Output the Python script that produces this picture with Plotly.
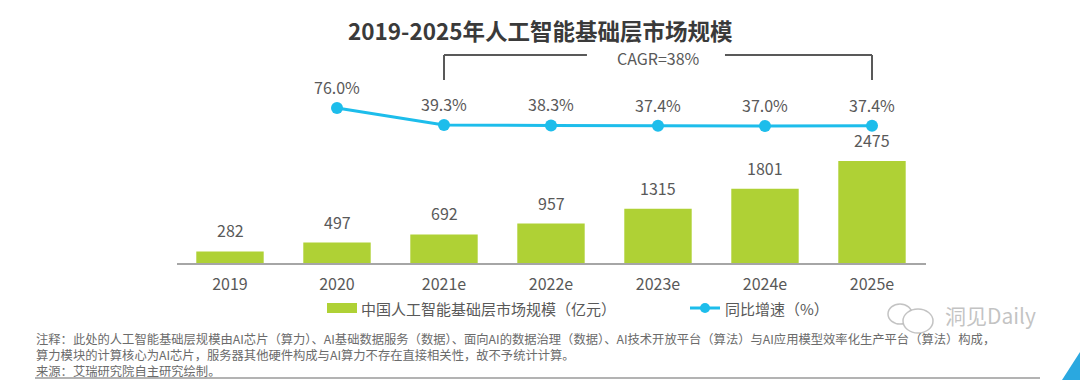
import plotly.graph_objects as go

categories = ["2019", "2020", "2021e", "2022e", "2023e", "2024e", "2025e"]
market_size = [282, 497, 692, 957, 1315, 1801, 2475]
growth_rate = [None, 76.0, 39.3, 38.3, 37.4, 37.0, 37.4]
growth_labels = ["", "76.0%", "39.3%", "38.3%", "37.4%", "37.0%", "37.4%"]

title_text = "2019-2025年人工智能基础层市场规模"
bar_name = "中国人工智能基础层市场规模（亿元）"
line_name = "同比增速（%）"
cagr_text = "CAGR=38%"
note_lines = [
    "注释：此处的人工智能基础层规模由AI芯片（算力）、AI基础数据服务（数据）、面向AI的数据治理（数据）、AI技术开放平台（算法）与AI应用模型效率化生产平台（算法）构成，",
    "算力模块的计算核心为AI芯片，服务器其他硬件构成与AI算力不存在直接相关性，故不予统计计算。",
    "来源：艾瑞研究院自主研究绘制。",
]

W, H = 1080, 380
FONT = "Noto Sans CJK SC"
GRAY = "#595959"
GREEN = "#AFD135"
BLUE = "#1DBDEB"


def py(p):
    return (H - p) / H


def px(p):
    return p / W


def txt(x, y, text, size, color=GRAY, xanchor="center", yanchor="middle", xref="paper", yref="paper", yshift=0,
        align="center"):
    return dict(x=x, y=y, xref=xref, yref=yref, text=text, showarrow=False,
                xanchor=xanchor, yanchor=yanchor, yshift=yshift, align=align,
                font=dict(family=FONT, size=size, color=color))


fig = go.Figure()
fig.add_trace(go.Bar(
    x=categories, y=market_size, name=bar_name,
    marker=dict(color=GREEN, line=dict(width=0)), width=0.63,
    hoverinfo="skip",
))
fig.add_trace(go.Scatter(
    x=categories, y=growth_rate, name=line_name, yaxis="y2",
    mode="lines+markers", line=dict(color=BLUE, width=3),
    marker=dict(color=BLUE, size=12), hoverinfo="skip",
))

annotations = []
for i, v in enumerate(market_size):
    annotations.append(txt(i, v, str(v), 16, xref="x", yref="y", yshift=21))
for i, (v, t) in enumerate(zip(growth_rate, growth_labels)):
    if v is None:
        continue
    annotations.append(txt(i, v, t, 16, xref="x", yref="y2", yshift=21))

annotations.append(txt(0.5, py(30), "<b>" + title_text + "</b>", 22.5, color="#3a3a3a"))
annotations.append(txt(4, py(58), cagr_text, 16, xref="x"))

# legend (manual)
annotations.append(txt(px(359), py(308), bar_name, 15, xanchor="left"))
annotations.append(txt(px(723), py(308), line_name, 15, xanchor="left"))

# footnote block
annotations.append(txt(px(34), py(328), "<br>".join(note_lines), 12.3, color="#6b6b6b",
                       xanchor="left", yanchor="top", align="left"))

annotations.append(txt(px(990), py(315), "洞见Daily", 21, color="rgba(185,185,185,0.85)"))

shapes = [
    # CAGR bracket
    dict(type="line", xref="x", yref="paper", x0=2, x1=2, y0=py(55), y1=py(80), line=dict(color=GRAY, width=2)),
    dict(type="line", xref="x", yref="paper", x0=2, x1=3.336, y0=py(55), y1=py(55), line=dict(color=GRAY, width=2)),
    dict(type="line", xref="x", yref="paper", x0=4.626, x1=6, y0=py(55), y1=py(55), line=dict(color=GRAY, width=2)),
    dict(type="line", xref="x", yref="paper", x0=6, x1=6, y0=py(55), y1=py(80), line=dict(color=GRAY, width=2)),
    # legend symbols
    dict(type="rect", xref="paper", yref="paper", x0=px(327), x1=px(357), y0=py(313), y1=py(303),
         fillcolor=GREEN, line=dict(width=0)),
    dict(type="line", xref="paper", yref="paper", x0=px(690), x1=px(720), y0=py(308), y1=py(308),
         line=dict(color=BLUE, width=3)),
    dict(type="circle", xref="paper", yref="paper", x0=px(700), x1=px(710), y0=py(313), y1=py(303),
         fillcolor=BLUE, line=dict(width=0)),
    # footer rule
    dict(type="line", xref="paper", yref="paper", x0=px(35), x1=px(1040), y0=py(378), y1=py(378),
         line=dict(color="#9a9a9a", width=1.5)),
    # wechat logo (watermark)
    dict(type="circle", xref="paper", yref="paper", x0=px(888), x1=px(912), y0=py(324), y1=py(304),
         line=dict(color="rgba(185,185,185,0.85)", width=1.5)),
    dict(type="circle", xref="paper", yref="paper", x0=px(903), x1=px(933), y0=py(333), y1=py(309),
         line=dict(color="rgba(185,185,185,0.85)", width=1.5), fillcolor="white"),
    # blue corner
    dict(type="path", xref="paper", yref="paper",
         path=f"M {px(1062)} {py(380)} L {px(1080)} {py(352)} L {px(1080)} {py(380)} Z",
         fillcolor="#2aa8e0", line=dict(width=0)),
]

fig.update_layout(
    width=W, height=H, autosize=False,
    margin=dict(l=0, r=0, t=0, b=0),
    paper_bgcolor="white", plot_bgcolor="white",
    showlegend=False,
    xaxis=dict(domain=[px(176.5), px(925.5)], type="category", range=[-0.5, 6.5],
               showline=True, linecolor="#a6a6a6", linewidth=2, showgrid=False, ticks="",
               tickfont=dict(family=FONT, size=16, color=GRAY), ticklabelstandoff=6),
    yaxis=dict(domain=[py(263), py(60)], range=[0, 4926], visible=False),
    yaxis2=dict(domain=[py(263), py(60)], range=[-258.8, 179.6], overlaying="y", visible=False),
    annotations=annotations,
    shapes=shapes,
)

fig.write_html("out.html", config={"displayModeBar": False},
               post_script="document.body.style.margin='0';document.body.style.overflow='hidden';")
